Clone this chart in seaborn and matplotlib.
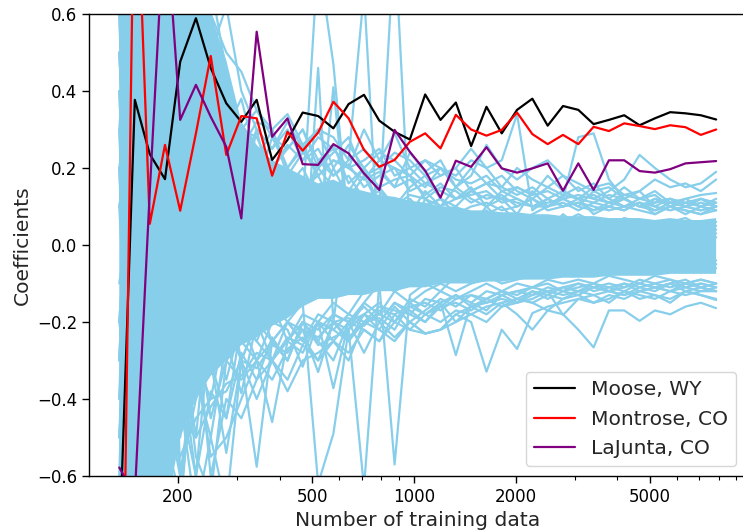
import matplotlib
matplotlib.use("Agg")
import matplotlib.pyplot as plt
import numpy as np
import pandas as pd
import seaborn as sns
from matplotlib.ticker import NullFormatter, FixedLocator, LogLocator

# ---------------- data ----------------
n_train = [134, 149, 165, 183, 203, 226, 250, 278, 308, 342, 380, 422, 468, 520,
           577, 640, 711, 789, 876, 972, 1079, 1198, 1330, 1476, 1639, 1819, 2019,
           2241, 2488, 2762, 3066, 3403, 3778, 4193, 4656, 5168, 5737, 6368, 7069, 7847]

moose = [-0.8, 0.377, 0.236, 0.171, 0.476, 0.589, 0.46, 0.368, 0.320, 0.377, 0.221,
         0.273, 0.344, 0.335, 0.303, 0.366, 0.390, 0.323, 0.294, 0.274, 0.391, 0.325,
         0.370, 0.257, 0.359, 0.290, 0.351, 0.380, 0.310, 0.361, 0.351, 0.314, 0.325,
         0.337, 0.311, 0.329, 0.345, 0.342, 0.337, 0.326]

montrose = [-1.7, 1.1, 0.055, 0.26, 0.089, 0.29, 0.491, 0.234, 0.335, 0.329, 0.180,
            0.294, 0.245, 0.292, 0.372, 0.329, 0.247, 0.203, 0.221, 0.268, 0.290, 0.251,
            0.338, 0.300, 0.284, 0.299, 0.344, 0.288, 0.262, 0.286, 0.262, 0.307, 0.296,
            0.316, 0.309, 0.301, 0.311, 0.306, 0.286, 0.300]

lajunta = [-0.578, -0.65, 0.14, 0.88, 0.325, 0.416, 0.333, 0.255, 0.069, 0.554, 0.281,
           0.329, 0.210, 0.208, 0.262, 0.238, 0.186, 0.143, 0.299, 0.242, 0.193, 0.123,
           0.219, 0.203, 0.254, 0.199, 0.188, 0.199, 0.212, 0.141, 0.212, 0.143, 0.220,
           0.220, 0.192, 0.188, 0.197, 0.212, 0.215, 0.218]

# dense band of all other stations (upper / lower edge of the solid blue core)
core_hi = [0.7, 0.7, 0.7, 0.7, 0.7, 0.7, 0.6, 0.48, 0.32, 0.26, 0.22, 0.2, 0.18, 0.16,
           0.17, 0.15, 0.14, 0.13, 0.125, 0.115, 0.11, 0.1, 0.1, 0.09, 0.09, 0.085,
           0.085, 0.08, 0.08, 0.075, 0.075, 0.075, 0.07, 0.07, 0.07, 0.065, 0.07, 0.065,
           0.065, 0.07]
core_lo = [-0.7, -0.7, -0.7, -0.7, -0.5, -0.4, -0.34, -0.3, -0.26, -0.24, -0.21, -0.19,
           -0.16, -0.14, -0.14, -0.13, -0.13, -0.12, -0.12, -0.11, -0.11, -0.1, -0.1,
           -0.1, -0.095, -0.095, -0.09, -0.09, -0.09, -0.085, -0.085, -0.085, -0.08,
           -0.08, -0.08, -0.08, -0.075, -0.075, -0.075, -0.075]

# individual (outlying) stations drawn in sky blue
b01 = [0.9, -0.8, 0.5, -0.3, 0.4, 0.1, -0.2, 0.3, 0.15, 0.2, 0.05, 0.18, 0.1, 0.75, 0.47, 0.05, 0.12, 0.06, 0.08, 0.1, 0.05, 0.07, 0.02, 0.05, 0.0, 0.03, -0.02, 0.04, 0.01, 0.0, 0.03, -0.01, 0.02, 0.0, 0.01, 0.03, 0.0, 0.02, 0.01, 0.02]
b02 = [-0.6, 0.8, -0.3, 0.2, 0.5, -0.1, 0.3, 0.1, -0.05, 0.12, 0.2, 0.08, -0.15, 0.46, -0.2, 0.1, 0.05, 0.0, 0.08, -0.02, 0.05, 0.03, 0.06, 0.0, 0.04, 0.02, 0.05, 0.01, 0.03, 0.04, 0.02, 0.05, 0.03, 0.04, 0.02, 0.03, 0.05, 0.04, 0.03, 0.04]
b03 = [0.4, -0.5, 0.9, 0.1, -0.3, 0.25, 0.1, 0.2, 0.3, 0.05, 0.15, 0.1, 0.12, 0.0, 0.41, 0.02, 0.1, 0.08, 0.05, 0.12, 0.08, 0.06, 0.1, 0.07, 0.05, 0.08, 0.06, 0.07, 0.05, 0.06, 0.08, 0.06, 0.05, 0.07, 0.06, 0.05, 0.06, 0.07, 0.05, 0.06]
b04 = [-0.9, 0.7, -0.4, 0.6, -0.2, 0.3, 0.2, -0.1, 0.25, 0.1, 0.2, 0.15, 0.1, 0.22, 0.18, 0.22, 0.66, -0.05, 0.1, 0.08, 0.1, 0.12, 0.08, 0.05, 0.1, 0.06, 0.04, 0.07, 0.05, 0.03, 0.06, 0.04, 0.05, 0.02, 0.04, 0.03, 0.05, 0.02, 0.04, 0.03]
b05 = [0.6, -0.7, 0.3, 0.8, 0.0, -0.4, 0.35, 0.2, 0.1, 0.3, 0.12, 0.2, 0.15, 0.1, 0.2, 0.12, 0.18, 0.1, 0.8, 0.03, 0.12, 0.08, 0.1, 0.06, 0.09, 0.05, 0.07, 0.06, 0.04, 0.08, 0.05, 0.06, 0.04, 0.06, 0.05, 0.04, 0.06, 0.05, 0.04, 0.05]
b06 = [-0.3, 0.6, 0.2, -0.5, 0.3, 0.45, 0.1, 0.25, 0.2, 0.15, 0.28, 0.2, 0.25, 0.18, 0.22, 0.2, 0.17, 0.22, 0.2, 0.18, 0.15, 0.2, 0.18, 0.22, 0.2, 0.22, 0.34, 0.09, 0.12, 0.1, 0.12, 0.08, 0.1, 0.09, 0.11, 0.08, 0.1, 0.09, 0.08, 0.1]
b07 = [0.5, -0.2, -0.6, 0.3, 0.1, 0.2, -0.1, 0.15, 0.05, 0.1, 0.08, 0.12, 0.05, 0.1, 0.08, 0.12, 0.1, 0.05, 0.12, 0.08, 0.1, 0.06, 0.09, 0.05, 0.08, 0.1, 0.06, 0.08, 0.1, 0.12, 0.28, 0.29, 0.17, 0.12, 0.1, 0.12, 0.1, 0.11, 0.12, 0.1]
b08 = [-0.4, 0.3, 0.7, -0.2, 0.2, 0.0, 0.3, 0.1, 0.2, 0.12, 0.18, 0.15, 0.1, 0.2, 0.15, 0.1, 0.12, 0.15, 0.1, 0.13, 0.12, 0.1, 0.15, 0.12, 0.1, 0.14, 0.12, 0.1, 0.1, 0.13, 0.15, 0.12, 0.14, 0.17, 0.234, 0.2, 0.17, 0.15, 0.16, 0.19]
b09 = [0.2, -0.6, 0.4, 0.1, -0.1, 0.3, 0.2, 0.22, 0.1, 0.18, 0.12, 0.15, 0.2, 0.12, 0.15, 0.18, 0.12, 0.14, 0.1, 0.15, 0.18, 0.12, 0.1, 0.14, 0.16, 0.12, 0.15, 0.13, 0.18, 0.14, 0.12, 0.15, 0.16, 0.13, 0.14, 0.17, 0.15, 0.16, 0.14, 0.17]
b10 = [-0.2, 0.4, -0.8, 0.5, 0.3, -0.2, 0.1, 0.2, 0.25, 0.15, 0.2, 0.1, 0.15, 0.18, 0.1, 0.14, 0.2, 0.1, 0.12, 0.08, 0.14, 0.1, 0.12, 0.15, 0.1, 0.12, 0.08, 0.14, 0.1, 0.12, 0.1, 0.14, 0.12, 0.1, 0.12, 0.14, 0.11, 0.12, 0.13, 0.135]
b11 = [0.3, 0.9, -0.3, 0.2, 0.5, 0.1, 0.4, 0.3, 0.2, 0.3, 0.25, 0.3, 0.22, 0.28, 0.25, 0.2, 0.3, 0.22, 0.29, 0.2, 0.22, 0.18, 0.2, 0.25, 0.2, 0.15, 0.2, 0.17, 0.15, 0.18, 0.14, 0.16, 0.12, 0.15, 0.12, 0.13, 0.1, 0.12, 0.1, 0.11]
b12 = [-0.5, 0.2, 0.6, -0.1, 0.3, 0.2, 0.1, 0.4, 0.3, 0.15, 0.2, 0.25, 0.3, 0.2, 0.24, 0.28, 0.18, 0.2, 0.15, 0.24, 0.19, 0.22, 0.15, 0.18, 0.26, 0.2, 0.17, 0.2, 0.22, 0.18, 0.16, 0.14, 0.15, 0.12, 0.14, 0.1, 0.12, 0.1, 0.12, 0.1]
b13 = [-0.3, 0.5, -0.7, 0.2, -0.4, -0.2, -0.3, -0.1, -0.2, -0.15, -0.25, -0.2, -0.15, -0.62, -0.49, -0.22, -0.15, -0.1, -0.12, -0.08, -0.1, -0.06, -0.08, -0.05, -0.07, -0.04, -0.06, -0.05, -0.04, -0.06, -0.05, -0.04, -0.05, -0.03, -0.04, -0.05, -0.03, -0.04, -0.05, -0.04]
b14 = [0.5, -0.4, 0.3, -0.8, -0.2, -0.5, -0.1, -0.3, -0.2, -0.25, -0.15, -0.2, -0.25, -0.18, -0.2, -0.22, -0.63, -0.1, -0.12, -0.1, -0.08, -0.1, -0.07, -0.09, -0.06, -0.08, -0.06, -0.07, -0.05, -0.07, -0.06, -0.05, -0.06, -0.05, -0.06, -0.04, -0.05, -0.06, -0.05, -0.05]
b15 = [-0.8, 0.3, -0.2, 0.6, -0.6, -0.3, -0.4, -0.2, -0.3, -0.2, -0.15, -0.25, -0.18, -0.2, -0.15, -0.18, -0.12, -0.1, -0.57, -0.13, -0.1, -0.12, -0.08, -0.1, -0.09, -0.07, -0.08, -0.06, -0.07, -0.06, -0.05, -0.07, -0.06, -0.05, -0.06, -0.05, -0.06, -0.05, -0.04, -0.05]
b16 = [0.2, -0.9, 0.4, -0.3, -0.5, -0.2, -0.45, -0.3, -0.25, -0.3, -0.2, -0.22, -0.316, -0.2, -0.372, -0.2, -0.18, -0.15, -0.2, -0.14, -0.16, -0.12, -0.14, -0.12, -0.1, -0.12, -0.1, -0.11, -0.09, -0.1, -0.09, -0.1, -0.08, -0.09, -0.1, -0.08, -0.09, -0.1, -0.09, -0.1]
b17 = [-0.5, 0.6, -0.3, -0.6, 0.1, -0.3, -0.2, -0.35, -0.2, -0.3, -0.25, -0.2, -0.22, -0.33, -0.2, -0.25, -0.18, -0.2, -0.15, -0.18, -0.2, -0.15, -0.286, -0.15, -0.17, -0.13, -0.15, -0.12, -0.14, -0.12, -0.13, -0.11, -0.12, -0.13, -0.11, -0.12, -0.1, -0.12, -0.11, -0.12]
b18 = [0.7, -0.3, -0.8, 0.1, -0.3, -0.6, -0.2, -0.1, -0.3, -0.2, -0.25, -0.3, -0.2, -0.25, -0.3, -0.2, -0.22, -0.25, -0.18, -0.22, -0.23, -0.22, -0.18, -0.2, -0.329, -0.22, -0.27, -0.177, -0.16, -0.15, -0.14, -0.15, -0.13, -0.14, -0.12, -0.13, -0.14, -0.12, -0.13, -0.14]
b19 = [-0.2, 0.4, -0.5, -0.7, -0.4, -0.1, -0.3, -0.45, -0.2, -0.25, -0.3, -0.2, -0.25, -0.2, -0.22, -0.25, -0.2, -0.18, -0.2, -0.16, -0.18, -0.15, -0.2, -0.16, -0.18, -0.15, -0.18, -0.22, -0.17, -0.18, -0.22, -0.266, -0.17, -0.17, -0.197, -0.17, -0.18, -0.16, -0.15, -0.164]
b20 = [0.1, -0.7, 0.2, -0.4, -0.6, -0.35, -0.5, -0.25, -0.385, -0.2, -0.3, -0.25, -0.2, -0.22, -0.18, -0.2, -0.16, -0.2, -0.15, -0.17, -0.2, -0.16, -0.15, -0.17, -0.14, -0.16, -0.15, -0.14, -0.12, -0.182, -0.14, -0.13, -0.15, -0.12, -0.14, -0.13, -0.15, -0.12, -0.13, -0.143]
b21 = [-0.7, 0.3, -0.5, -0.2, -0.6, -0.4, -0.3, -0.54, -0.3, -0.576, -0.25, -0.3, -0.2, -0.25, -0.18, -0.2, -0.15, -0.18, -0.12, -0.15, -0.12, -0.1, -0.12, -0.1, -0.08, -0.1, -0.09, -0.08, -0.07, -0.08, -0.07, -0.06, -0.07, -0.06, -0.07, -0.06, -0.05, -0.06, -0.07, -0.06]
b22 = [0.3, -0.5, -0.9, 0.4, -0.2, -0.55, -0.65, -0.3, -0.35, -0.3, -0.46, -0.25, -0.28, -0.2, -0.25, -0.3, -0.2, -0.22, -0.25, -0.2, -0.23, -0.22, -0.18, -0.16, -0.15, -0.14, -0.15, -0.13, -0.12, -0.13, -0.12, -0.11, -0.12, -0.11, -0.1, -0.11, -0.12, -0.1, -0.11, -0.12]
b23 = [0.1, 0.4, -0.3, -0.2, -0.4, -0.7, -0.5, -0.68, -0.3, -0.4, -0.3, -0.35, -0.26, -0.3, -0.25, -0.28, -0.22, -0.25, -0.2, -0.22, -0.18, -0.2, -0.17, -0.18, -0.16, -0.15, -0.14, -0.15, -0.13, -0.14, -0.12, -0.13, -0.12, -0.13, -0.12, -0.11, -0.12, -0.11, -0.1, -0.11]
b24 = [-0.1, 0.2, 0.5, -0.5, -0.7, -0.2, -0.6, -0.4, -0.45, -0.35, -0.3, -0.38, -0.3, -0.28, -0.25, -0.2, -0.28, -0.2, -0.24, -0.2, -0.23, -0.22, -0.2, -0.18, -0.2, -0.16, -0.14, -0.15, -0.17, -0.14, -0.13, -0.15, -0.14, -0.12, -0.13, -0.14, -0.12, -0.13, -0.12, -0.12]
b25 = [0.6, -0.4, 0.8, 0.3, 0.65, 0.5, 0.68, 0.45, 0.3, 0.35, 0.28, 0.25, 0.3, 0.22, 0.25, 0.2, 0.22, 0.25, 0.18, 0.2, 0.16, 0.18, 0.2, 0.14, 0.16, 0.15, 0.13, 0.15, 0.12, 0.14, 0.12, 0.13, 0.11, 0.12, 0.1, 0.12, 0.11, 0.1, 0.12, 0.11]
b26 = [-0.4, 0.9, 0.2, 0.7, 0.4, 0.7, 0.5, 0.62, 0.4, 0.3, 0.25, 0.32, 0.25, 0.3, 0.2, 0.26, 0.2, 0.24, 0.22, 0.18, 0.22, 0.2, 0.15, 0.2, 0.16, 0.18, 0.14, 0.12, 0.15, 0.13, 0.12, 0.11, 0.13, 0.12, 0.1, 0.11, 0.12, 0.1, 0.11, 0.1]
b27 = [0.1, 0.3, -0.2, 0.5, 0.2, 0.1, 0.3, 0.2, 0.1, 0.2, 0.15, 0.1, 0.15, 0.12, 0.1, 0.14, 0.1, 0.12, 0.09, 0.11, 0.1, 0.12, 0.08, 0.1, 0.11, 0.09, 0.1, 0.12, 0.09, 0.1, 0.11, 0.09, 0.1, 0.12, 0.1, 0.09, 0.11, 0.1, 0.09, 0.1]
b28 = [0.5, -0.3, 0.6, 0.2, 0.7, 0.4, 0.55, 0.3, 0.38, 0.22, 0.3, 0.2, 0.26, 0.18, 0.22, 0.2, 0.17, 0.19, 0.15, 0.17, 0.13, 0.16, 0.12, 0.14, 0.12, 0.13, 0.1, 0.12, 0.1, 0.11, 0.09, 0.11, 0.1, 0.09, 0.11, 0.1, 0.09, 0.1, 0.09, 0.1]
b29 = [0.2, 0.5, -0.4, 0.6, 0.3, 0.6, 0.4, 0.35, 0.3, 0.28, 0.2, 0.26, 0.22, 0.25, 0.18, 0.21, 0.15, 0.18, 0.2, 0.14, 0.16, 0.14, 0.12, 0.13, 0.14, 0.11, 0.12, 0.1, 0.12, 0.1, 0.11, 0.1, 0.09, 0.1, 0.11, 0.09, 0.1, 0.08, 0.1, 0.09]
b30 = [-0.3, 0.7, 0.3, -0.2, 0.5, 0.3, 0.45, 0.4, 0.25, 0.32, 0.3, 0.18, 0.24, 0.2, 0.26, 0.16, 0.2, 0.15, 0.17, 0.18, 0.12, 0.15, 0.14, 0.11, 0.13, 0.12, 0.11, 0.1, 0.11, 0.12, 0.1, 0.09, 0.11, 0.1, 0.09, 0.08, 0.1, 0.09, 0.08, 0.09]
b31 = [-0.5, 0.2, -0.6, -0.4, -0.55, -0.45, -0.4, -0.38, -0.3, -0.32, -0.26, -0.28, -0.22, -0.24, -0.2, -0.19, -0.21, -0.17, -0.18, -0.16, -0.15, -0.17, -0.14, -0.13, -0.14, -0.12, -0.13, -0.11, -0.12, -0.11, -0.1, -0.11, -0.1, -0.11, -0.09, -0.1, -0.11, -0.1, -0.09, -0.1]
b32 = [0.4, -0.6, -0.3, -0.7, -0.45, -0.5, -0.42, -0.36, -0.34, -0.28, -0.3, -0.24, -0.26, -0.2, -0.22, -0.18, -0.2, -0.16, -0.17, -0.18, -0.14, -0.15, -0.13, -0.15, -0.12, -0.13, -0.12, -0.11, -0.1, -0.12, -0.11, -0.1, -0.12, -0.1, -0.11, -0.1, -0.09, -0.11, -0.1, -0.11]
b33 = [-0.2, -0.5, 0.3, -0.6, -0.4, -0.6, -0.38, -0.45, -0.28, -0.35, -0.24, -0.3, -0.2, -0.26, -0.24, -0.22, -0.18, -0.22, -0.16, -0.2, -0.17, -0.14, -0.16, -0.13, -0.15, -0.13, -0.12, -0.13, -0.11, -0.12, -0.1, -0.12, -0.11, -0.1, -0.12, -0.11, -0.1, -0.09, -0.11, -0.1]
b34 = [0.3, -0.8, -0.4, -0.5, -0.65, -0.3, -0.55, -0.5, -0.4, -0.3, -0.35, -0.27, -0.24, -0.3, -0.2, -0.24, -0.2, -0.19, -0.22, -0.15, -0.18, -0.16, -0.13, -0.16, -0.14, -0.12, -0.14, -0.12, -0.13, -0.11, -0.12, -0.1, -0.11, -0.12, -0.1, -0.11, -0.1, -0.11, -0.12, -0.11]
b35 = [0.8, 0.1, 0.4, 0.6, -0.2, 0.5, 0.6, 0.5, 0.45, 0.35, 0.3, 0.34, 0.26, 0.3, 0.28, 0.22, 0.25, 0.2, 0.24, 0.22, 0.18, 0.2, 0.17, 0.16, 0.18, 0.14, 0.15, 0.13, 0.14, 0.12, 0.13, 0.12, 0.11, 0.13, 0.12, 0.11, 0.12, 0.11, 0.1, 0.12]

others = [b01, b02, b03, b04, b05, b06, b07, b08, b09, b10, b11, b12, b13, b14,
          b15, b16, b17, b18, b19, b20, b21, b22, b23, b24, b25, b26, b27, b28,
          b29, b30, b31, b32, b33, b34, b35]

series_labels = ["Moose, WY", "Montrose, CO", "LaJunta, CO"]
x_ticks = [200, 500, 1000, 2000, 5000]
y_ticks = [-0.6, -0.4, -0.2, 0.0, 0.2, 0.4, 0.6]

# ---------------- plotting ----------------
sns.set_style("ticks")
plt.rcParams.update({
    "font.family": ["DejaVu Sans"],
    "axes.edgecolor": "black",
    "axes.linewidth": 1.0,
    "xtick.color": "black",
    "ytick.color": "black",
    "xtick.major.size": 5,
    "ytick.major.size": 5,
    "xtick.minor.size": 3,
    "xtick.major.width": 1.0,
    "ytick.major.width": 1.0,
    "xtick.minor.width": 0.8,
})

fig = plt.figure(figsize=(7.43, 5.31), dpi=100)
ax = fig.add_axes([89 / 743, 55 / 531, 657 / 743, 462 / 531])

sky = "#87ceeb"
ax.fill_between(n_train, core_lo, core_hi, color=sky, lw=0, zorder=1)

rows = []
for k, vals in enumerate(others):
    for xv, yv in zip(n_train, vals):
        rows.append({"n": xv, "coef": yv, "station": k})
df_other = pd.DataFrame(rows)
sns.lineplot(data=df_other, x="n", y="coef", units="station", estimator=None,
             color=sky, lw=1.6, legend=False, ax=ax, zorder=2)

for vals, lab, col in zip([moose, montrose, lajunta], series_labels,
                          ["black", "red", "purple"]):
    d = pd.DataFrame({"n": n_train, "coef": vals})
    sns.lineplot(data=d, x="n", y="coef", color=col, lw=1.6, label=lab, ax=ax,
                 zorder=3)

ax.set_xscale("log")
ax.set_xlim(109, 9620)
ax.set_ylim(-0.6, 0.6)
ax.xaxis.set_major_locator(FixedLocator(x_ticks))
ax.set_xticklabels([str(t) for t in x_ticks])
ax.xaxis.set_minor_locator(LogLocator(base=10, subs=np.arange(2, 10) * 1.0))
ax.xaxis.set_minor_formatter(NullFormatter())
ax.set_yticks(y_ticks)
ax.tick_params(axis="both", labelsize=12)

ax.set_xlabel("Number of training data", fontsize=14.6)
ax.set_ylabel("Coefficients", fontsize=14.6)

for s in ["top", "left", "bottom", "right"]:
    ax.spines[s].set_visible(True)

ax.legend(loc="lower right", fontsize=14.6, frameon=True)

fig.savefig("out.png", dpi=100)
